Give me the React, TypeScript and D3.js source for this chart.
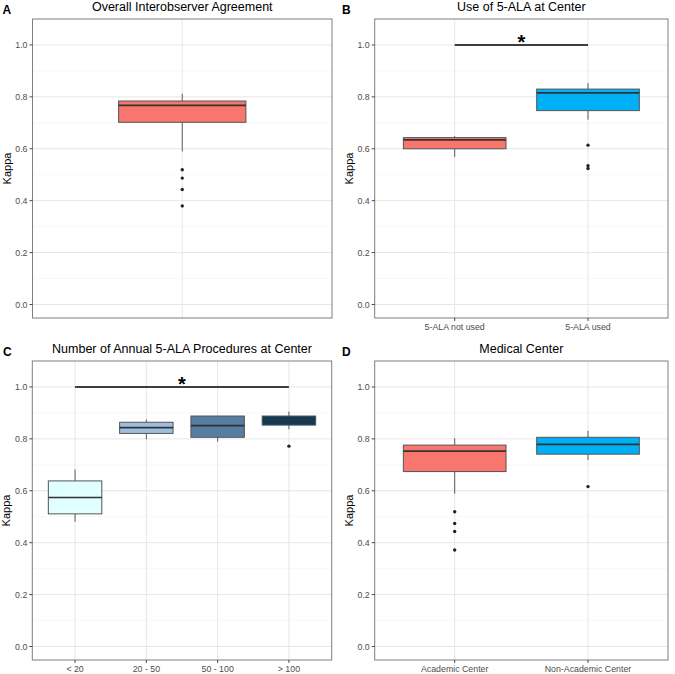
import React from "react";
import * as d3 from "d3";

const yTicks = [0, 0.2, 0.4, 0.6, 0.8, 1.0];
const yTickLabels = ["0.0", "0.2", "0.4", "0.6", "0.8", "1.0"];
const yMinorTicks = [0.1, 0.3, 0.5, 0.7, 0.9];

// Panel A
const catsA = ["Overall"];
const lowA = [0.59];
const q1A = [0.702];
const medA = [0.767];
const q3A = [0.784];
const highA = [0.812];
const outA = [[0.519, 0.487, 0.443, 0.38]];
const fillA = ["#F8766D"];

// Panel B
const catsB = ["5-ALA not used", "5-ALA used"];
const lowB = [0.568, 0.712];
const q1B = [0.6, 0.747];
const medB = [0.634, 0.815];
const q3B = [0.643, 0.83];
const highB = [0.649, 0.853];
const outB = [[], [0.614, 0.535, 0.524]];
const fillB = ["#F8766D", "#00B0F6"];

// Panel C
const catsC = ["< 20", "20 - 50", "50 - 100", "> 100"];
const lowC = [0.48, 0.798, 0.789, 0.837];
const q1C = [0.511, 0.821, 0.806, 0.853];
const medC = [0.574, 0.843, 0.851, 0.873];
const q3C = [0.638, 0.864, 0.888, 0.888];
const highC = [0.682, 0.875, 0.888, 0.905];
const outC = [[], [], [], [0.772]];
const fillC = ["#E0FFFF", "#9EBEDF", "#587DA3", "#0B3C5D"];

// Panel D
const catsD = ["Academic Center", "Non-Academic Center"];
const lowD = [0.589, 0.718];
const q1D = [0.674, 0.741];
const medD = [0.753, 0.779];
const q3D = [0.776, 0.806];
const highD = [0.802, 0.831];
const outD = [[0.519, 0.474, 0.443, 0.372], [0.616]];
const fillD = ["#F8766D", "#00B0F6"];

const FONT = "'Liberation Sans', Arial, Helvetica, sans-serif";

type PanelProps = {
  letter: string;
  title: string;
  cats: string[];
  low: number[];
  q1: number[];
  med: number[];
  q3: number[];
  high: number[];
  out: number[][];
  fills: string[];
  x0: number;
  x1: number;
  y0: number;
  y1: number;
  letterX: number;
  boxFrac: number;
  showX: boolean;
  sig?: { from: number; to: number; value: number };
};

function Panel(p: PanelProps) {
  const y = d3.scaleLinear().domain([-0.052, 1.1]).range([p.y1, p.y0]);
  const x = d3.scalePoint<string>().domain(p.cats).range([p.x0, p.x1]).padding(0.6);
  const step = x.step();
  const bw = step * p.boxFrac;
  const midX = (p.x0 + p.x1) / 2;
  return (
    <g>
      <text x={p.letterX} y={p.y0 - 5} fontFamily={FONT} fontWeight="bold" fontSize={12} fill="#000">
        {p.letter}
      </text>
      <text x={midX} y={p.y0 - 8} textAnchor="middle" fontFamily={FONT} fontSize={12.5} fill="#000">
        {p.title}
      </text>
      <text
        transform={`translate(${p.x0 - 22},${(p.y0 + p.y1) / 2}) rotate(-90)`}
        textAnchor="middle"
        fontFamily={FONT}
        fontSize={11}
        fill="#000"
      >
        Kappa
      </text>
      <rect x={p.x0} y={p.y0} width={p.x1 - p.x0} height={p.y1 - p.y0} fill="#fff" />
      {yMinorTicks.map((t) => (
        <line key={"mn" + t} x1={p.x0} x2={p.x1} y1={y(t)} y2={y(t)} stroke="#F2F2F2" strokeWidth={0.6} />
      ))}
      {yTicks.map((t) => (
        <line key={"mj" + t} x1={p.x0} x2={p.x1} y1={y(t)} y2={y(t)} stroke="#E6E6E6" strokeWidth={1} />
      ))}
      {p.cats.map((c) => (
        <line key={"vg" + c} x1={x(c)} x2={x(c)} y1={p.y0} y2={p.y1} stroke="#E6E6E6" strokeWidth={1} />
      ))}
      {p.sig && (
        <g>
          <line
            x1={x(p.cats[p.sig.from])}
            x2={x(p.cats[p.sig.to])}
            y1={y(p.sig.value)}
            y2={y(p.sig.value)}
            stroke="#000"
            strokeWidth={1.6}
          />
          <text
            x={((x(p.cats[p.sig.from]) as number) + (x(p.cats[p.sig.to]) as number)) / 2}
            y={y(p.sig.value) + 4}
            textAnchor="middle"
            fontFamily={FONT}
            fontWeight="bold"
            fontSize={20}
            fill="#000"
          >
            *
          </text>
        </g>
      )}
      {p.cats.map((c, i) => {
        const cx = x(c) as number;
        return (
          <g key={"bx" + c}>
            <line x1={cx} x2={cx} y1={y(p.q3[i])} y2={y(p.high[i])} stroke="#4D4D4D" strokeWidth={0.9} />
            <line x1={cx} x2={cx} y1={y(p.q1[i])} y2={y(p.low[i])} stroke="#4D4D4D" strokeWidth={0.9} />
            <rect
              x={cx - bw / 2}
              y={y(p.q3[i])}
              width={bw}
              height={y(p.q1[i]) - y(p.q3[i])}
              fill={p.fills[i]}
              stroke="#555"
              strokeWidth={1}
            />
            <line
              x1={cx - bw / 2}
              x2={cx + bw / 2}
              y1={y(p.med[i])}
              y2={y(p.med[i])}
              stroke="#333"
              strokeWidth={1.7}
            />
            {p.out[i].map((v, j) => (
              <circle key={j} cx={cx} cy={y(v)} r={1.7} fill="#222" />
            ))}
          </g>
        );
      })}
      <rect
        x={p.x0}
        y={p.y0}
        width={p.x1 - p.x0}
        height={p.y1 - p.y0}
        fill="none"
        stroke="#7F7F7F"
        strokeWidth={1}
      />
      {yTicks.map((t, i) => (
        <g key={"yt" + t}>
          <line x1={p.x0 - 3} x2={p.x0} y1={y(t)} y2={y(t)} stroke="#333" strokeWidth={0.9} />
          <text
            x={p.x0 - 5}
            y={y(t)}
            dy="0.35em"
            textAnchor="end"
            fontFamily={FONT}
            fontSize={8.8}
            fill="#4D4D4D"
          >
            {yTickLabels[i]}
          </text>
        </g>
      ))}
      {p.showX &&
        p.cats.map((c) => (
          <g key={"xt" + c}>
            <line x1={x(c)} x2={x(c)} y1={p.y1} y2={p.y1 + 3} stroke="#333" strokeWidth={0.9} />
            <text x={x(c)} y={p.y1 + 11.5} textAnchor="middle" fontFamily={FONT} fontSize={8.8} fill="#4D4D4D">
              {c}
            </text>
          </g>
        ))}
    </g>
  );
}

export default function App() {
  return (
    <svg
      width={675}
      height={674}
      style={{ position: "absolute", left: 0, top: 0, background: "#fff" }}
      xmlns="http://www.w3.org/2000/svg"
    >
      <rect x={0} y={0} width={675} height={674} fill="#fff" />
      <Panel
        letter="A"
        title="Overall Interobserver Agreement"
        cats={catsA}
        low={lowA}
        q1={q1A}
        med={medA}
        q3={q3A}
        high={highA}
        out={outA}
        fills={fillA}
        x0={32.5}
        x1={332}
        y0={19}
        y1={318}
        letterX={2.5}
        boxFrac={0.51}
        showX={false}
      />
      <Panel
        letter="B"
        title="Use of 5-ALA at Center"
        cats={catsB}
        low={lowB}
        q1={q1B}
        med={medB}
        q3={q3B}
        high={highB}
        out={outB}
        fills={fillB}
        x0={374.7}
        x1={668}
        y0={19}
        y1={318}
        letterX={342}
        boxFrac={0.77}
        showX={true}
        sig={{ from: 0, to: 1, value: 1.0 }}
      />
      <Panel
        letter="C"
        title="Number of Annual 5-ALA Procedures at Center"
        cats={catsC}
        low={lowC}
        q1={q1C}
        med={medC}
        q3={q3C}
        high={highC}
        out={outC}
        fills={fillC}
        x0={32.3}
        x1={331.7}
        y0={361}
        y1={660}
        letterX={3}
        boxFrac={0.75}
        showX={true}
        sig={{ from: 0, to: 3, value: 1.0 }}
      />
      <Panel
        letter="D"
        title="Medical Center"
        cats={catsD}
        low={lowD}
        q1={q1D}
        med={medD}
        q3={q3D}
        high={highD}
        out={outD}
        fills={fillD}
        x0={374.7}
        x1={668}
        y0={361}
        y1={660}
        letterX={342}
        boxFrac={0.77}
        showX={true}
      />
    </svg>
  );
}
